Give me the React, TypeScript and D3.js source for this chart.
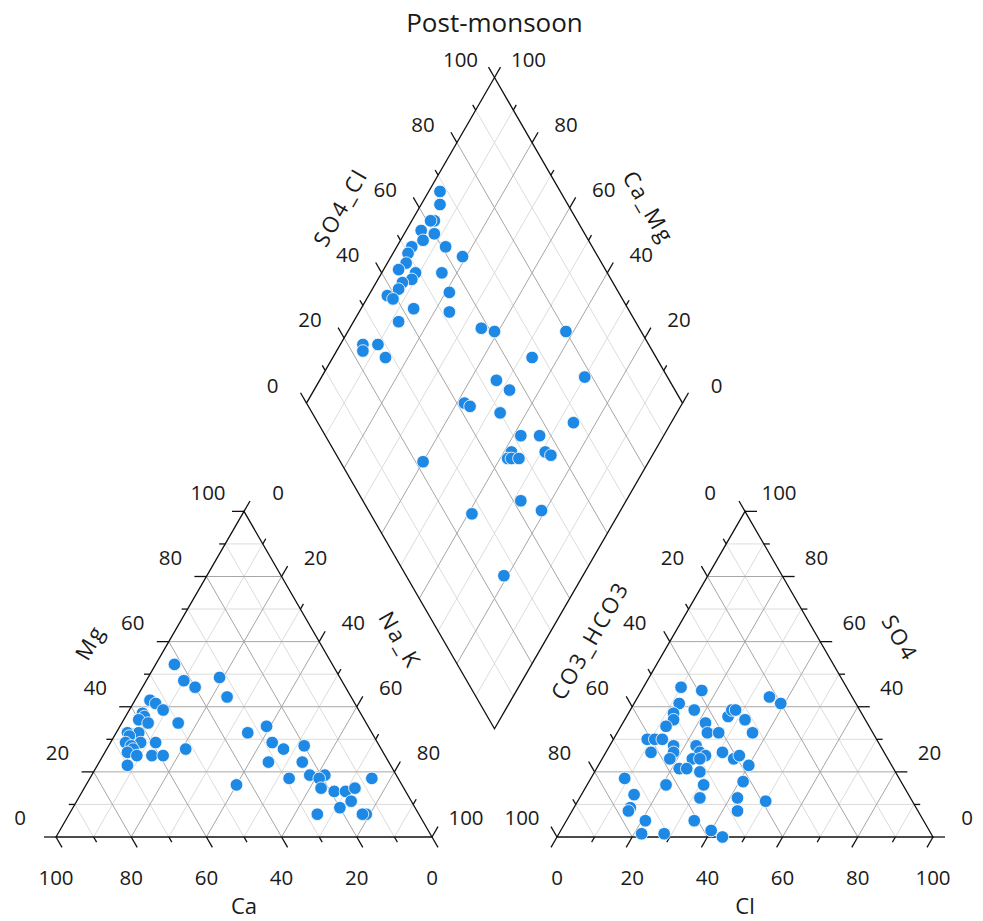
import React, { useEffect, useRef } from 'react';
import * as d3 from 'd3';

// cation triangle, % of meq (Ca + Mg + Na_K = 100)
const cationMg = [42, 41, 39, 38, 37, 36, 35, 35, 32, 32, 31, 29, 29, 29, 28, 27, 27, 26, 25, 25, 25, 22,
    53, 48, 46, 49, 43, 32, 34, 29, 27, 28, 23, 23, 16, 18, 19, 19, 18, 15, 14, 14, 15, 11, 9, 18, 7, 7, 7];
const cationNaK = [4, 6, 9, 4, 5, 4, 7, 15, 6, 3, 4, 4, 8, 12, 6, 7, 21, 6, 9, 13, 16, 8,
    5, 10, 14, 19, 24, 35, 39, 43, 47, 52, 45, 54, 40, 53, 58, 62, 61, 63, 67, 70, 72, 73, 71, 75, 66, 79, 78];
const cationCa = [54, 53, 52, 58, 58, 60, 58, 50, 62, 65, 65, 67, 63, 59, 66, 66, 52, 68, 66, 62, 59, 70,
    42, 42, 40, 32, 33, 33, 27, 28, 26, 20, 32, 23, 44, 29, 23, 19, 21, 22, 19, 16, 13, 16, 20, 7, 27, 14, 15];

// anion triangle, % of meq (Cl + SO4 + CO3_HCO3 = 100)
const anionSO4 = [46, 45, 41, 39, 38, 36, 34, 35, 32, 32, 30, 30, 30, 26, 28, 26, 24, 28, 26, 25, 24, 24, 21, 21, 20, 26, 37,
    39, 39, 36, 32, 24, 25, 22, 17, 12, 8, 11, 43, 41, 18, 13, 9, 8, 5, 1, 1, 16, 16, 12, 5, 2, 0];
const anionCl = [10, 16, 12, 17, 12, 13, 12, 22, 24, 27, 9, 11, 13, 12, 17, 18, 18, 23, 25, 27, 24, 26, 22, 24, 28, 31, 27,
    27, 28, 32, 36, 35, 36, 40, 41, 42, 44, 50, 35, 39, 9, 14, 15, 15, 21, 22, 28, 21, 31, 32, 34, 40, 44];
const anionCO3HCO3 = [44, 39, 47, 44, 50, 51, 54, 43, 44, 41, 61, 59, 57, 62, 55, 56, 58, 49, 49, 48, 52, 50, 57, 55, 52, 43, 36,
    34, 33, 32, 32, 41, 39, 38, 42, 46, 48, 39, 22, 20, 73, 73, 76, 77, 74, 77, 71, 63, 53, 56, 61, 58, 56];

// diamond, % Ca_Mg and % SO4_Cl
const diamondCaMg = [97, 95, 94, 95, 96, 94, 92, 87, 81, 96, 96, 95, 96, 91, 91, 93, 93, 95, 93, 84, 79, 86, 76, 88, 65, 61,
    94, 93, 90, 86, 42, 47, 30, 53, 48, 58, 56, 47, 26, 38, 33, 38, 38, 37, 35, 29, 27, 60, 28, 21, 39, 21];
const diamondSO4Cl = [68, 66, 62, 61, 57, 56, 60, 61, 64, 52, 50, 48, 45, 49, 47, 44, 42, 38, 39, 56, 55, 43, 52, 37, 58, 61,
    24, 23, 28, 28, 80, 67, 78, 54, 56, 42, 43, 50, 68, 52, 57, 47, 45, 46, 48, 56, 57, 22, 42, 46, 27, 26];

const gridValues = [10, 20, 30, 40, 50, 60, 70, 80, 90];
const tickValues = [0, 10, 20, 30, 40, 50, 60, 70, 80, 90, 100];
const labelValues = [0, 20, 40, 60, 80, 100];

const width = 983;
const height = 921;
const side = 376;
const triH = side * Math.sqrt(3) / 2;
const baseY = 837;
const leftX0 = 56;
const gap = 125;
const rightX0 = leftX0 + side + gap;
const diamondBx = leftX0 + side + gap / 2;
const diamondBy = baseY - (gap / 2) * Math.sqrt(3);

const pointColor = '#1E88E5';
const font = '"Open Sans", "Noto Sans", sans-serif';

const App = () => {
    const svgRef = useRef(null);

    useEffect(() => {
        document.body.style.margin = '0';
        const svg = d3.select(svgRef.current);
        svg.selectAll('*').remove();

        const sx = d3.scaleLinear().domain([0, 100]).range([0, side]);
        const sy = d3.scaleLinear().domain([0, 100]).range([0, triH]);

        const cationPos = (mg, nak) => [leftX0 + sx(nak) + sx(mg) / 2, baseY - sy(mg)];
        const anionPos = (so4, cl) => [rightX0 + sx(cl) + sx(so4) / 2, baseY - sy(so4)];
        const diamondPos = (camg, so4cl) => [diamondBx + (sx(so4cl) - sx(camg)) / 2, diamondBy - sy(camg) - sy(so4cl)];

        const gridColor = (v) => (v % 20 === 0 ? '#a6a6a6' : '#dcdcdc');

        // grid lines, minor first so the majors sit on top
        const gridLines = [];
        gridValues.forEach((v) => {
            gridLines.push({v, a: cationPos(v, 0), b: cationPos(v, 100 - v)});
            gridLines.push({v, a: cationPos(0, v), b: cationPos(100 - v, v)});
            gridLines.push({v, a: cationPos(0, 100 - v), b: cationPos(100 - v, 0)});
            gridLines.push({v, a: anionPos(v, 0), b: anionPos(v, 100 - v)});
            gridLines.push({v, a: anionPos(0, v), b: anionPos(100 - v, v)});
            gridLines.push({v, a: anionPos(0, 100 - v), b: anionPos(100 - v, 0)});
            gridLines.push({v, a: diamondPos(v, 0), b: diamondPos(v, 100)});
            gridLines.push({v, a: diamondPos(0, v), b: diamondPos(100, v)});
        });
        gridLines.sort((p, q) => (p.v % 20 === 0 ? 1 : 0) - (q.v % 20 === 0 ? 1 : 0));

        svg.append('g').selectAll('line').data(gridLines).enter().append('line')
            .attr('x1', (d) => d.a[0]).attr('y1', (d) => d.a[1])
            .attr('x2', (d) => d.b[0]).attr('y2', (d) => d.b[1])
            .attr('stroke', (d) => gridColor(d.v))
            .attr('stroke-width', 1);

        // outlines
        const outlines = [
            [cationPos(0, 0), cationPos(0, 100), cationPos(100, 0)],
            [anionPos(0, 0), anionPos(0, 100), anionPos(100, 0)],
            [diamondPos(0, 0), diamondPos(0, 100), diamondPos(100, 100), diamondPos(100, 0)]
        ];
        svg.append('g').selectAll('path').data(outlines).enter().append('path')
            .attr('d', (d) => d3.line()(d) + 'Z')
            .attr('fill', 'none')
            .attr('stroke', '#111')
            .attr('stroke-width', 1.3);

        const s3 = Math.sqrt(3) / 2;
        const axes = [
            {pos: (v) => cationPos(v, 0), dir: [-1, 0], off: [-36, -19]},             // Mg
            {pos: (v) => cationPos(100 - v, v), dir: [0.5, -s3], off: [34, -19]},      // Na_K
            {pos: (v) => cationPos(0, 100 - v), dir: [0.5, s3], off: [0, 41]},         // Ca
            {pos: (v) => anionPos(100 - v, 0), dir: [-0.5, -s3], off: [-35, -19]},     // CO3_HCO3
            {pos: (v) => anionPos(v, 100 - v), dir: [1, 0], off: [34, -19]},           // SO4
            {pos: (v) => anionPos(0, v), dir: [-0.5, s3], off: [0, 41]},               // Cl
            {pos: (v) => diamondPos(100, v), dir: [-0.5, -s3], off: [-34, -18]},       // SO4_Cl
            {pos: (v) => diamondPos(v, 100), dir: [0.5, -s3], off: [34, -18]}          // Ca_Mg
        ];

        const ticks = [];
        const labels = [];
        axes.forEach((ax) => {
            tickValues.forEach((v) => {
                const p = ax.pos(v);
                const len = v % 20 === 0 ? 12 : 6;
                ticks.push({a: p, b: [p[0] + ax.dir[0] * len, p[1] + ax.dir[1] * len]});
            });
            labelValues.forEach((v) => {
                const p = ax.pos(v);
                labels.push({x: p[0] + ax.off[0], y: p[1] + ax.off[1], text: String(v)});
            });
        });

        svg.append('g').selectAll('line').data(ticks).enter().append('line')
            .attr('x1', (d) => d.a[0]).attr('y1', (d) => d.a[1])
            .attr('x2', (d) => d.b[0]).attr('y2', (d) => d.b[1])
            .attr('stroke', '#111')
            .attr('stroke-width', 1.3);

        svg.append('g').selectAll('text').data(labels).enter().append('text')
            .attr('x', (d) => d.x).attr('y', (d) => d.y)
            .attr('dy', '0.36em')
            .attr('text-anchor', 'middle')
            .style('font-family', font)
            .style('font-size', '20.5px')
            .attr('fill', '#1a1a1a')
            .text((d) => d.text);

        // sample points
        const points = [];
        cationMg.forEach((mg, i) => points.push(cationPos(mg, cationNaK[i])));
        anionSO4.forEach((so4, i) => points.push(anionPos(so4, anionCl[i])));
        diamondCaMg.forEach((camg, i) => points.push(diamondPos(camg, diamondSO4Cl[i])));

        svg.append('g').selectAll('circle').data(points).enter().append('circle')
            .attr('cx', (d) => d[0]).attr('cy', (d) => d[1])
            .attr('r', 6.3)
            .attr('fill', pointColor)
            .attr('stroke', '#ffffff')
            .attr('stroke-width', 0.8);

        // axis titles
        const titles = [
            {text: 'Ca', p: cationPos(0, 50), off: [0, 77], rot: 0, dy: '0'},
            {text: 'Mg', p: cationPos(50, 0), off: [-60, -32], rot: -60, dy: '0.36em'},
            {text: 'Na_K', p: cationPos(50, 50), off: [62, -34], rot: 60, dy: '0.36em'},
            {text: 'Cl', p: anionPos(0, 50), off: [0, 77], rot: 0, dy: '0'},
            {text: 'CO3_HCO3', p: anionPos(50, 0), off: [-61, -34], rot: -60, dy: '0.36em'},
            {text: 'SO4', p: anionPos(50, 50), off: [61, -36], rot: 60, dy: '0.36em'},
            {text: 'SO4_Cl', p: diamondPos(100, 50), off: [-60, -33], rot: -60, dy: '0.36em'},
            {text: 'Ca_Mg', p: diamondPos(50, 100), off: [60, -33], rot: 60, dy: '0.36em'}
        ];
        svg.append('g').selectAll('text').data(titles).enter().append('text')
            .attr('transform', (d) => `translate(${d.p[0] + d.off[0]},${d.p[1] + d.off[1]}) rotate(${d.rot})`)
            .attr('dy', (d) => d.dy)
            .attr('text-anchor', 'middle')
            .style('font-family', font)
            .style('font-size', '22px')
            .style('letter-spacing', (d) => (d.rot === 0 ? '0px' : '2.5px'))
            .attr('fill', '#1a1a1a')
            .text((d) => d.text);

        svg.append('text')
            .attr('x', diamondBx)
            .attr('y', 32)
            .attr('text-anchor', 'middle')
            .style('font-family', font)
            .style('font-size', '26px')
            .attr('fill', '#1a1a1a')
            .text('Post-monsoon');
    }, []);

    return <svg ref={svgRef} width={width} height={height} style={{display: 'block', background: '#fff'}}/>;
};

export default App;
